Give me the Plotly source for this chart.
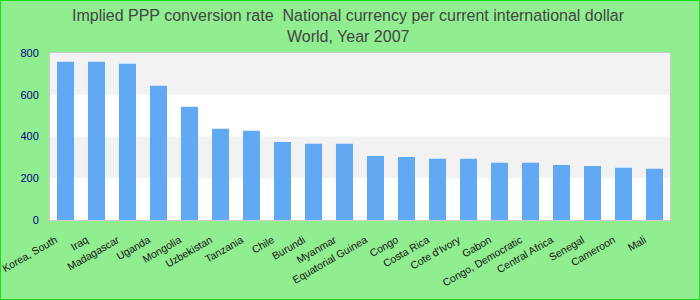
import plotly.graph_objects as go

countries = ["Korea, South", "Iraq", "Madagascar", "Uganda", "Mongolia", "Uzbekistan",
             "Tanzania", "Chile", "Burundi", "Myanmar", "Equatorial Guinea", "Congo",
             "Costa Rica", "Cote d'Ivory", "Gabon", "Congo, Democratic", "Central Africa",
             "Senegal", "Cameroon", "Mali"]
values = [758, 758, 749, 643, 542, 437, 427, 374, 365, 365, 307, 302, 293, 293,
          274, 274, 264, 259, 250, 245]
y_ticks = [0, 200, 400, 600, 800]
bands = [(200, 400), (600, 800)]
title_lines = ["Implied PPP conversion rate  National currency per current international dollar",
               "World, Year 2007"]

W, H = 700, 300
ml, mr, mt, mb = 50, 30, 53, 80
pw, ph = W - ml - mr, H - mt - mb

fig = go.Figure(go.Bar(x=countries, y=values, marker_color="#62a9f4",
                       marker_line_width=0, width=0.55))

shapes = []
for y0, y1 in bands:
    shapes.append(dict(type="rect", xref="paper", yref="y", x0=0, x1=1, y0=y0, y1=y1,
                       fillcolor="#f2f2f2", line_width=0, layer="below"))
shapes.append(dict(type="rect", xref="paper", yref="paper",
                   x0=-ml / pw, x1=1 + mr / pw, y0=-mb / ph, y1=1 + mt / ph,
                   line=dict(color="#11e011", width=2), fillcolor="rgba(0,0,0,0)"))

title_font = dict(family="Liberation Sans Narrow, Liberation Sans, Arial, sans-serif", size=16, color="#444444")
annotations = []
for i, (txt, ypix) in enumerate(zip(title_lines, [16, 36])):
    annotations.append(dict(text=txt, xref="paper", yref="paper",
                            x=(W / 2 - 2 - ml) / pw, y=1 + (mt - ypix) / ph,
                            xanchor="center", yanchor="middle", showarrow=False,
                            font=title_font))

fig.update_layout(
    width=W, height=H,
    margin=dict(l=ml, r=mr, t=mt, b=mb),
    paper_bgcolor="#90ee90", plot_bgcolor="#ffffff",
    shapes=shapes,
    annotations=annotations,
    showlegend=False,
    bargap=0.45,
)
fig.update_xaxes(tickangle=-30, tickfont=dict(family="Liberation Sans, Arial, sans-serif", size=10.5, color="#111111"),
                 showline=True, linecolor="#cccccc", mirror=True, showgrid=False, ticks="",
                 ticklabelstandoff=9, ticklabelshift=-10, automargin=False)
fig.update_yaxes(range=[0, 800], tickvals=y_ticks, showgrid=False, zeroline=False,
                 tickfont=dict(family="Liberation Sans, Arial, sans-serif", size=11, color="#000080"),
                 showline=True, linecolor="#cccccc", mirror=True, ticks="", ticklabelstandoff=8,
                 automargin=False)

fig.write_html("out.html")
